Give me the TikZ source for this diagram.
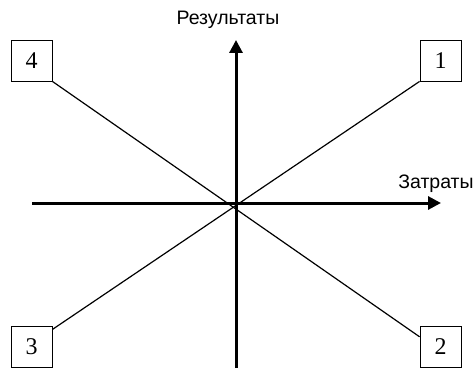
\documentclass[tikz,border=0pt]{standalone}
\usepackage{fontspec}
\setmainfont{Liberation Serif}
\newfontfamily\axisfont{Liberation Sans}
\usepackage{tikz}
\usetikzlibrary{arrows.meta, positioning, calc}
\tikzset{
  numbox/.style={rectangle, draw=black, fill=white, minimum width=41pt,
    minimum height=41pt, inner sep=0pt, line width=0.9pt,
    font=\fontsize{24}{26}\selectfont},
  axislabel/.style={font=\axisfont\fontsize{19.5}{22}\selectfont, inner sep=0pt},
  axisarrow/.style={-{Triangle[length=13pt, width=13pt]}, line width=3pt, color=black},
  ray/.style={line width=1.2pt, color=black}
}

\begin{document}
\begin{tikzpicture}[x=1pt, y=-1pt]
  \useasboundingbox (0,0) rectangle (476,369);

  % Nodes
  \node[numbox] (q4) at (31.5, 60.5) {4};
  \node[numbox] (q1) at (440.5, 60.5) {1};
  \node[numbox] (q3) at (31.5, 347) {3};
  \node[numbox] (q2) at (440.5, 347) {2};

  % Axis ends
  \coordinate (xleft) at (32, 203);
  \coordinate (xright) at (441, 203);
  \coordinate (ybottom) at (236, 368);
  \coordinate (ytop) at (236, 40);

  % Axis labels
  \node[axislabel] (res) at (228, 20) {Результаты};
  \node[axislabel] (cost) at (436, 184) {Затраты};

  % Rays through the origin
  \draw[ray] (q4.south east) -- (q2.154);
  \draw[ray] (q1.south west) -- (q3.40);

  % Axes
  \draw[axisarrow] (xleft) -- (xright);
  \draw[axisarrow] (ybottom) -- (ytop);
\end{tikzpicture}
\end{document}
